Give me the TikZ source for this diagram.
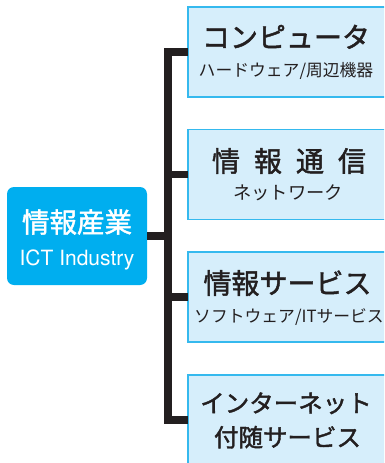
\documentclass[tikz,border=0pt]{standalone}
\usepackage{fontspec}
\setmainfont{Noto Sans CJK JP}
\newfontfamily\jpmed[FakeBold=1.6]{Noto Sans CJK JP}
\newfontfamily\latinsans{TeX Gyre Heros}
\definecolor{ink}{HTML}{231F20}
\definecolor{cyanbox}{HTML}{00AEEF}
\definecolor{boxfill}{HTML}{D6EEFB}
\definecolor{boxline}{HTML}{35B9EE}
\tikzset{
  catbox/.style={draw=boxline, line width=1.5pt, fill=boxfill, minimum width=204pt, minimum height=90pt, anchor=west, inner sep=0pt, outer sep=0pt},
  conn/.style={draw=ink, line width=7.5pt, line join=miter, line cap=butt},
  ttl/.style={anchor=base, inner sep=0pt, text=ink, font=\fontsize{28}{30}\selectfont\jpmed},
  ttlb/.style={anchor=base, inner sep=0pt, text=ink, font=\fontsize{24.5}{26}\selectfont\jpmed},
  sub/.style={anchor=base, inner sep=0pt, text=ink, font=\fontsize{16.8}{18}\selectfont},
}
\begin{document}
\begin{tikzpicture}[x=1pt,y=-1pt]
\useasboundingbox (0,0) rectangle (384,463);
\clip (0,0) rectangle (384,463);
% right boxes
\node[catbox] (b1) at (188,52) {};
\node[catbox] (b2) at (188,174.5) {};
\node[catbox] (b3) at (188,297) {};
\node[catbox] (b4) at (188,420) {};
% left box
\node[draw=none, fill=cyanbox, rounded corners=7pt, minimum width=140pt, minimum height=98pt, inner sep=0pt, outer sep=0pt] (ict) at (77,236) {};
\node[anchor=base, inner sep=0pt, text=white, font=\fontsize{27.5}{29}\selectfont\jpmed] (ictj) at (77,232.5) {情報産業};
\node[anchor=base, inner sep=0pt, text=white, font=\fontsize{21}{23}\selectfont\latinsans] (icte) at (77,265) {ICT Industry};
% connectors
\coordinate (j) at (168,236);
\draw[conn] (b1.west) -| (j) |- (b4.west);
\draw[conn] (b2.west) -- (b2.west -| j);
\draw[conn] (b3.west) -- (b3.west -| j);
\draw[conn] (ict.east) -- (j);
% texts
\node[ttl] (t1) at (286,47.6) {コンピュータ};
\node[sub] (s1) at (286,76.4) {ハードウェア/周辺機器};
\node[ttl] (t2) at (289,171.6) {情\hspace{0.5em}報\hspace{0.5em}通\hspace{0.5em}信};
\node[sub, font=\fontsize{18.3}{20}\selectfont] (s2) at (288,199) {ネットワーク};
\node[ttl] (t3) at (287.5,293.6) {情報サービス};
\node[sub] (s3) at (289,322.4) {ソフトウェア/ITサービス};
\node[ttlb] (t4a) at (286,412.3) {インターネット};
\node[ttlb] (t4b) at (287.5,446.5) {付随サービス};
\end{tikzpicture}
\end{document}
